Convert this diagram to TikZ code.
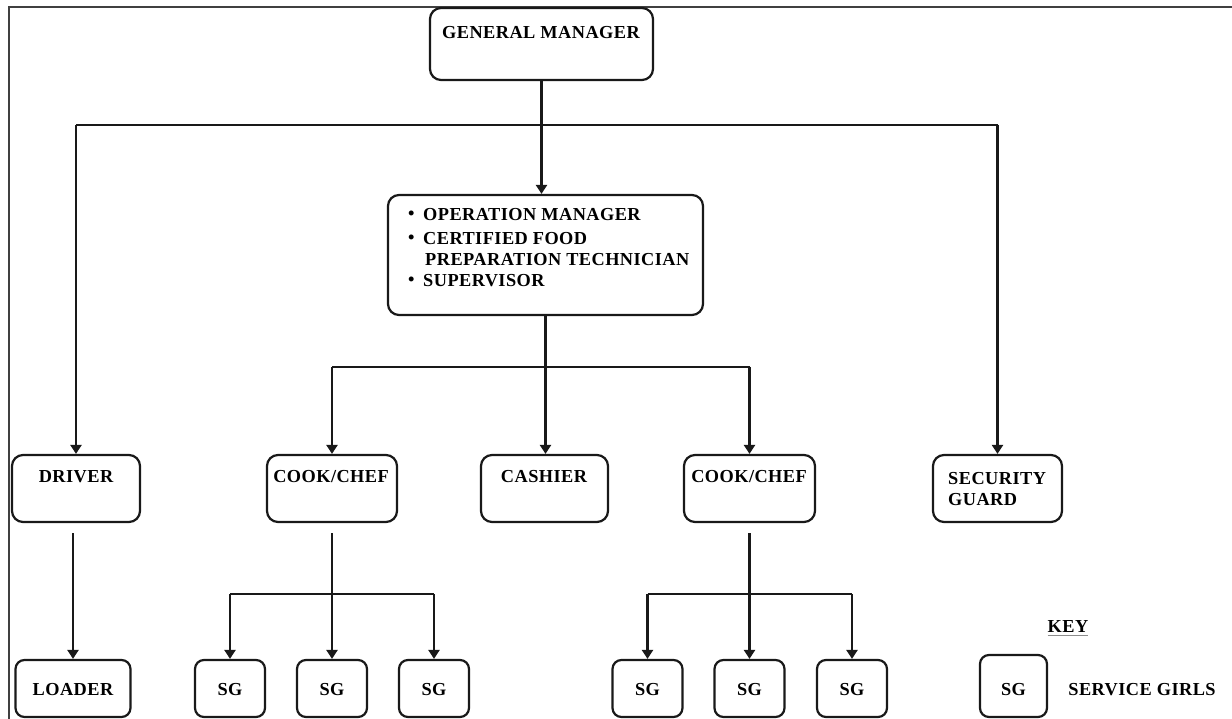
\documentclass[tikz,border=0pt]{standalone}
\usepackage{fontspec}
\setmainfont{Liberation Serif}[LetterSpace=2.5]
\usetikzlibrary{arrows.meta}
\begin{document}
\begin{tikzpicture}[x=1pt,y=-1pt,
  box/.style={draw=black!90, line width=2.2pt, rounded corners=11pt, inner sep=0pt},
  sgbox/.style={box, rounded corners=9pt, minimum width=70pt, minimum height=57pt},
  rowbox/.style={box, minimum height=67pt},
  lbl/.style={font=\fontsize{18.3}{21}\selectfont\bfseries, inner sep=0pt, text=black},
  conn/.style={draw=black!90, line width=2.2pt},
  arr/.style={conn, -{Triangle[length=9pt,width=11pt]}}]
\useasboundingbox (0,0) rectangle (1232,719);
\fill[white] (0,0) rectangle (1232,719);
% frame
\draw[line width=2pt, black!75] (9,719) -- (9,7) -- (1232,7);

% boxes
\node[box, minimum width=223pt, minimum height=72pt] (gm) at (541.5,44) {};
\node[box, minimum width=315pt, minimum height=120pt] (ops) at (545.5,255) {};
\node[rowbox, minimum width=128pt] (driver) at (76,488.5) {};
\node[rowbox, minimum width=130pt] (cook1) at (332,488.5) {};
\node[rowbox, minimum width=127pt] (cashier) at (544.5,488.5) {};
\node[rowbox, minimum width=131pt] (cook2) at (749.5,488.5) {};
\node[rowbox, minimum width=129pt] (sec) at (997.5,488.5) {};
\node[sgbox, minimum width=115pt] (loader) at (73,688.5) {};
\node[sgbox] (sg1) at (230,688.5) {};
\node[sgbox] (sg2) at (332,688.5) {};
\node[sgbox] (sg3) at (434,688.5) {};
\node[sgbox] (sg4) at (647.5,688.5) {};
\node[sgbox] (sg5) at (749.5,688.5) {};
\node[sgbox] (sg6) at (852,688.5) {};
\node[sgbox, minimum width=67pt, minimum height=62pt] (keybox) at (1013.5,686) {};

% labels
\node[lbl] (gmt) at (541,33) {GENERAL MANAGER};
\node[lbl, anchor=west] (o1b) at (408,215) {•};
\node[lbl, anchor=west] (o1) at (423,215) {OPERATION MANAGER};
\node[lbl, anchor=west] (o2b) at (408,239) {•};
\node[lbl, anchor=west] (o2) at (423,239) {CERTIFIED FOOD};
\node[lbl, anchor=west] (o3) at (425,260) {PREPARATION TECHNICIAN};
\node[lbl, anchor=west] (o4b) at (408,281) {•};
\node[lbl, anchor=west] (o4) at (423,281) {SUPERVISOR};
\node[lbl] (drt) at (76,477) {DRIVER};
\node[lbl] (c1t) at (331,477) {COOK/CHEF};
\node[lbl] (cat) at (544,477) {CASHIER};
\node[lbl] (c2t) at (749,477) {COOK/CHEF};
\node[lbl, anchor=west] (st1) at (948,479) {SECURITY};
\node[lbl, anchor=west] (st2) at (948,500) {GUARD};
\node[lbl] (lt) at (73,690) {LOADER};
\foreach \n in {sg1,sg2,sg3,sg4,sg5,sg6}{
  \node[lbl] at (\n |- 0,690) {SG};
}
\node[lbl] (kt) at (1013.5,690) {SG};
\node[lbl] (keyl) at (1068,627) {KEY};
\draw[line width=0.8pt, black!45] ([yshift=-2pt]keyl.south west) -- ([yshift=-2pt]keyl.south east);
\node[lbl] (sgl) at (1142,690) {SERVICE GIRLS};

% connectors
\coordinate (hb) at (0,125);
\coordinate (mb) at (0,367);
\coordinate (lb) at (0,594);
\draw[arr] (gm.south) -- (ops.north -| gm.south);
\draw[conn] (driver.north |- hb) -- (sec.north |- hb);
\draw[arr] (driver.north |- hb) -- (driver.north);
\draw[arr] (sec.north |- hb) -- (sec.north);

\draw[arr] (ops.south) -- (cashier.north -| ops.south);
\draw[conn] (cook1.north |- mb) -- (cook2.north |- mb);
\draw[arr] (cook1.north |- mb) -- (cook1.north);
\draw[arr] (cook2.north |- mb) -- (cook2.north);

\draw[arr, shorten <=10pt] (driver.south -| loader.north) -- (loader.north);

\draw[arr, shorten <=10pt] (cook1.south) -- (sg2.north);
\draw[conn] (sg1.north |- lb) -- (sg3.north |- lb);
\draw[arr] (sg1.north |- lb) -- (sg1.north);
\draw[arr] (sg3.north |- lb) -- (sg3.north);

\draw[arr, shorten <=10pt] (cook2.south) -- (sg5.north);
\draw[conn] (sg4.north |- lb) -- (sg6.north |- lb);
\draw[arr] (sg4.north |- lb) -- (sg4.north);
\draw[arr] (sg6.north |- lb) -- (sg6.north);
\end{tikzpicture}
\end{document}
